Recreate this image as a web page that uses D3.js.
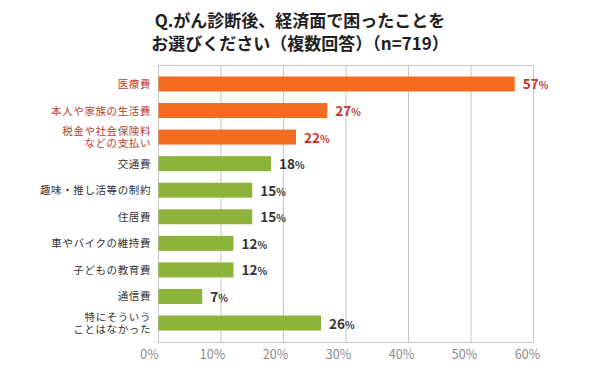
<!DOCTYPE html>
<html lang="ja">
<head>
    <meta charset="UTF-8">
    <title>がん診断後、経済面で困ったこと</title>
    <style>
        body { margin: 0; background: #fff; }
        svg { display: block; font-family: "Noto Sans CJK JP", "Noto Sans", sans-serif; }
        .grid line { stroke: #c4c4c4; stroke-width: 1; }
        .tick-label { fill: #8a8a8a; font-size: 12.5px; }
    </style>
</head>
<body>
    <div id="chart"></div>
    <script src="https://cdnjs.cloudflare.com/ajax/libs/d3/7.8.5/d3.min.js"></script>
    <script>
        const width = 600;
        const height = 386;

        // データ
        const categories = [
            ["医療費"],
            ["本人や家族の生活費"],
            ["税金や社会保険料", "などの支払い"],
            ["交通費"],
            ["趣味・推し活等の制約"],
            ["住居費"],
            ["車やバイクの維持費"],
            ["子どもの教育費"],
            ["通信費"],
            ["特にそういう", "ことはなかった"]
        ];
        const values = [57, 27, 22, 18, 15, 15, 12, 12, 7, 26];
        const highlighted = [true, true, true, false, false, false, false, false, false, false];
        const ticks = [0, 10, 20, 30, 40, 50, 60];
        const titleLines = ["Q.がん診断後、経済面で困ったことを", "お選びください（複数回答）（n=719）"];

        const svg = d3.select("#chart")
            .append("svg")
            .attr("width", width)
            .attr("height", height);

        const x = d3.scaleLinear().domain([0, 60]).range([158.5, 533.5]);
        const y = d3.scaleBand()
            .domain(d3.range(values.length))
            .range([70.7, 336.3])
            .paddingInner(0.435)
            .paddingOuter(0.2175);

        const gridTop = 65.5, gridBottom = 342.5;

        // タイトル
        svg.append("g").selectAll("text")
            .data(titleLines)
            .enter()
            .append("text")
            .attr("x", 300)
            .attr("y", (d, i) => 27 + i * 23)
            .attr("text-anchor", "middle")
            .style("font-size", "17px")
            .style("font-weight", "bold")
            .style("fill", "#1e1e1e")
            .text(d => d);

        // グリッド
        const grid = svg.append("g").attr("class", "grid");
        grid.selectAll("line.v")
            .data(ticks)
            .enter()
            .append("line")
            .attr("class", "v")
            .attr("x1", d => x(d)).attr("x2", d => x(d))
            .attr("y1", gridTop).attr("y2", gridBottom);
        grid.append("line")
            .attr("x1", x(0)).attr("x2", x(60))
            .attr("y1", gridTop).attr("y2", gridTop);
        grid.append("line")
            .attr("x1", x(0)).attr("x2", x(60))
            .attr("y1", gridBottom).attr("y2", gridBottom);

        // 目盛りラベル
        svg.append("g").selectAll("text")
            .data(ticks)
            .enter()
            .append("text")
            .attr("class", "tick-label")
            .attr("x", d => x(d) - 9 + d * 0.05)
            .attr("y", 359)
            .attr("text-anchor", "middle")
            .text(d => d + "%");

        // 棒
        svg.append("g").selectAll("rect")
            .data(values)
            .enter()
            .append("rect")
            .attr("x", x(0))
            .attr("y", (d, i) => y(i))
            .attr("width", d => x(d) - x(0))
            .attr("height", y.bandwidth())
            .attr("fill", (d, i) => highlighted[i] ? "#f36c21" : "#8db33a");

        // 値ラベル
        const vl = svg.append("g").selectAll("text")
            .data(values)
            .enter()
            .append("text")
            .attr("x", d => x(d) + 8)
            .attr("y", (d, i) => y(i) + y.bandwidth() / 2 + 5.5)
            .style("font-weight", "bold")
            .style("fill", (d, i) => highlighted[i] ? "#c0392b" : "#333");
        vl.append("tspan").style("font-size", "13.5px").text(d => d);
        vl.append("tspan").style("font-size", "10px").text("%");

        // カテゴリラベル
        const cl = svg.append("g").selectAll("text")
            .data(categories)
            .enter()
            .append("text")
            .attr("x", 151)
            .attr("y", (d, i) => y(i) + y.bandwidth() / 2 + 4 - (d.length - 1) * 6)
            .attr("text-anchor", "end")
            .style("font-size", "10.5px")
            .style("letter-spacing", "0.6px")
            .style("fill", (d, i) => highlighted[i] ? "#c0392b" : "#333");
        cl.selectAll("tspan")
            .data(d => d)
            .enter()
            .append("tspan")
            .attr("x", 151)
            .attr("dy", (d, j) => j === 0 ? 0 : 12)
            .text(d => d);
    </script>
</body>
</html>
